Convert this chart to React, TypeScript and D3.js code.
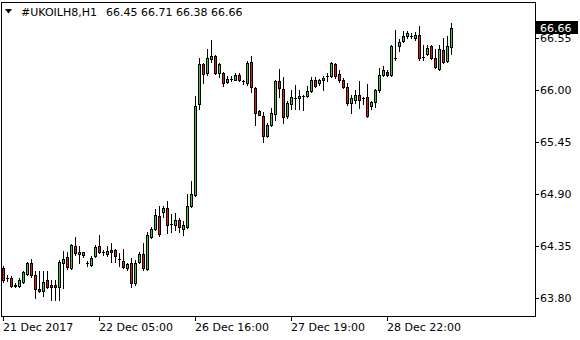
import React from "react";
import * as d3 from "d3";

const symbol = "#UKOILH8,H1";
const opens = [64.12,64.01,64.01,63.94,63.93,63.97,64.05,64.17,64.04,63.89,63.87,63.99,63.94,63.94,63.91,64.17,64.23,64.12,64.35,64.26,64.25,64.17,64.15,64.24,64.35,64.29,64.26,64.31,64.31,64.21,64.19,64.12,64.17,63.96,64.18,64.26,64.11,64.44,64.53,64.67,64.71,64.75,64.58,64.57,64.62,64.53,64.55,64.77,64.89,65.85,66.27,66.18,66.33,66.36,66.18,66.18,66.08,66.12,66.11,66.16,66.09,66.07,66.30,66.02,65.78,65.72,65.51,65.63,65.75,66.09,66.01,65.72,65.85,65.92,65.91,65.94,65.94,65.99,66.11,66.07,66.10,66.15,66.15,66.27,66.17,66.11,66.03,65.86,65.89,65.95,65.91,65.93,65.83,65.87,66.00,66.16,66.19,66.16,66.34,66.47,66.52,66.57,66.57,66.55,66.58,66.35,66.38,66.46,66.34,66.22,66.42,66.31,66.45];
const highs = [64.14,64.04,64.03,63.96,64.01,64.08,64.18,64.21,64.08,64.08,64.08,64.08,63.99,63.99,64.20,64.30,64.29,64.37,64.44,64.35,64.29,64.19,64.24,64.36,64.47,64.31,64.35,64.38,64.32,64.27,64.32,64.17,64.22,64.20,64.28,64.38,64.50,64.55,64.74,64.77,64.77,64.82,64.69,64.70,64.65,64.61,64.90,65.04,65.94,66.34,66.29,66.43,66.53,66.37,66.28,66.19,66.15,66.15,66.18,66.18,66.11,66.31,66.36,66.03,65.79,65.77,65.65,65.81,66.11,66.22,66.14,65.88,66.00,66.05,66.00,65.95,66.04,66.14,66.14,66.12,66.15,66.18,66.30,66.29,66.21,66.13,66.07,65.95,66.00,66.09,65.93,66.06,65.88,66.01,66.23,66.25,66.21,66.48,66.63,66.54,66.62,66.62,66.60,66.61,66.68,66.48,66.48,66.48,66.43,66.48,66.55,66.57,66.71];
const lows = [63.97,63.98,63.92,63.91,63.92,63.96,64.04,64.02,63.80,63.86,63.82,63.90,63.78,63.78,63.78,63.90,64.11,64.11,64.25,64.17,64.23,64.14,64.14,64.23,64.27,64.25,64.24,64.18,64.18,64.14,64.12,64.10,63.91,63.94,64.17,64.10,64.09,64.43,64.52,64.45,64.66,64.49,64.50,64.52,64.50,64.47,64.54,64.76,64.88,65.80,66.07,66.16,66.30,66.17,66.14,66.04,66.07,66.09,66.10,66.09,66.06,66.05,65.98,65.63,65.73,65.45,65.50,65.62,65.68,65.93,65.65,65.70,65.80,65.80,65.80,65.79,65.93,65.98,66.03,66.05,66.00,66.09,66.14,66.13,66.08,66.02,65.84,65.76,65.86,65.81,65.85,65.71,65.80,65.82,65.98,66.15,66.15,66.15,66.32,66.41,66.51,66.55,66.55,66.53,66.32,66.32,66.37,66.33,66.23,66.21,66.28,66.30,66.38];
const closes = [63.99,64.01,63.93,63.93,63.99,64.07,64.17,64.04,63.89,63.87,63.97,63.92,63.92,63.91,64.18,64.21,64.13,64.36,64.27,64.28,64.28,64.17,64.22,64.34,64.29,64.29,64.30,64.29,64.24,64.21,64.13,64.16,63.96,64.17,64.26,64.12,64.47,64.53,64.68,64.48,64.75,64.57,64.58,64.62,64.55,64.57,64.77,64.90,65.83,66.27,66.17,66.34,66.36,66.18,66.27,66.07,66.12,66.12,66.16,66.10,66.09,66.29,66.03,65.76,65.74,65.51,65.63,65.76,66.09,66.02,65.71,65.86,65.93,65.92,65.94,65.94,65.99,66.11,66.04,66.11,66.13,66.15,66.28,66.15,66.10,66.03,65.86,65.92,65.95,65.89,65.91,65.72,65.87,66.00,66.16,66.21,66.16,66.47,66.34,66.51,66.57,66.60,66.57,66.58,66.34,66.35,66.44,66.34,66.24,66.43,66.30,66.47,66.66];

const yTicks = [63.8, 64.35, 64.9, 65.45, 66.0, 66.55];
const xTickIndex = [0, 24, 48, 72, 96];
const xTickLabels = ["21 Dec 2017", "22 Dec 05:00", "26 Dec 16:00", "27 Dec 19:00", "28 Dec 22:00"];

const W = 580, H = 340;
const L = 1.5, R = 535.5, T = 2.5, B = 316.5;
const FONT = "'DejaVu Sans', Verdana, sans-serif";
const BULL = "#32CD32";
const BEAR = "#E01818";

export default function App() {
  const x = d3.scaleLinear().domain([0, 133]).range([3.5, 535.5]);
  const y = d3.scaleLinear().domain([63.608, 66.92]).range([316, 3]);
  const Y = (p: number) => Math.round(y(p));
  const n = closes.length;
  const last = n - 1;

  const candles = d3.range(n).map((i) => {
    const cx = x(i);
    const o = opens[i], c = closes[i];
    const top = Y(Math.max(o, c));
    const bot = Y(Math.min(o, c));
    const bull = c >= o;
    return (
      <g key={i}>
        <line x1={cx} x2={cx} y1={Y(highs[i])} y2={Y(lows[i]) + 1} stroke="#000" strokeWidth={1} />
        {bot - top >= 1 ? (
          <rect x={cx - 1} y={top + 0.5} width={2} height={bot - top} fill={bull ? BULL : BEAR} stroke="#000" strokeWidth={1} />
        ) : (
          <line x1={cx - 1.5} x2={cx + 1.5} y1={top + 0.5} y2={top + 0.5} stroke="#000" strokeWidth={1} />
        )}
      </g>
    );
  });

  const lastY = Y(closes[last]);
  const header = [opens[last], highs[last], lows[last], closes[last]].map((v) => v.toFixed(2)).join(" ");

  return (
    <svg width={W} height={H} style={{ position: "absolute", left: 0, top: 0, background: "#fff" }} shapeRendering="crispEdges">
      <rect x={0} y={0} width={W} height={H} fill="#fff" />
      <g>{candles}</g>
      <rect x={L} y={T} width={R - L} height={B - T} fill="none" stroke="#000" strokeWidth={1} />
      {yTicks.map((t) => (
        <g key={t}>
          <line x1={R} x2={R + 3.5} y1={Y(t) + 0.5} y2={Y(t) + 0.5} stroke="#000" />
          <text x={540} y={Y(t) + 4} fontFamily={FONT} fontSize={11} fill="#000">{t.toFixed(2)}</text>
        </g>
      ))}
      <rect x={536} y={lastY - 7} width={42} height={13} fill="#000" />
      <text x={540} y={lastY + 4} fontFamily={FONT} fontSize={11} fill="#fff">{closes[last].toFixed(2)}</text>
      {xTickIndex.map((idx, k) => (
        <g key={idx}>
          <line x1={x(idx)} x2={x(idx)} y1={B} y2={B + 4} stroke="#000" />
          <text x={x(idx) - 0.5} y={331} fontFamily={FONT} fontSize={11} fill="#000">{xTickLabels[k]}</text>
        </g>
      ))}
      <polygon points="5,9 12,9 8.5,13.5" fill="#000" shapeRendering="auto" />
      <text x={21} y={16} fontFamily={FONT} fontSize={11} fill="#000">{symbol}</text>
      <text x={106} y={16} fontFamily={FONT} fontSize={11} fill="#000">{header}</text>
    </svg>
  );
}
